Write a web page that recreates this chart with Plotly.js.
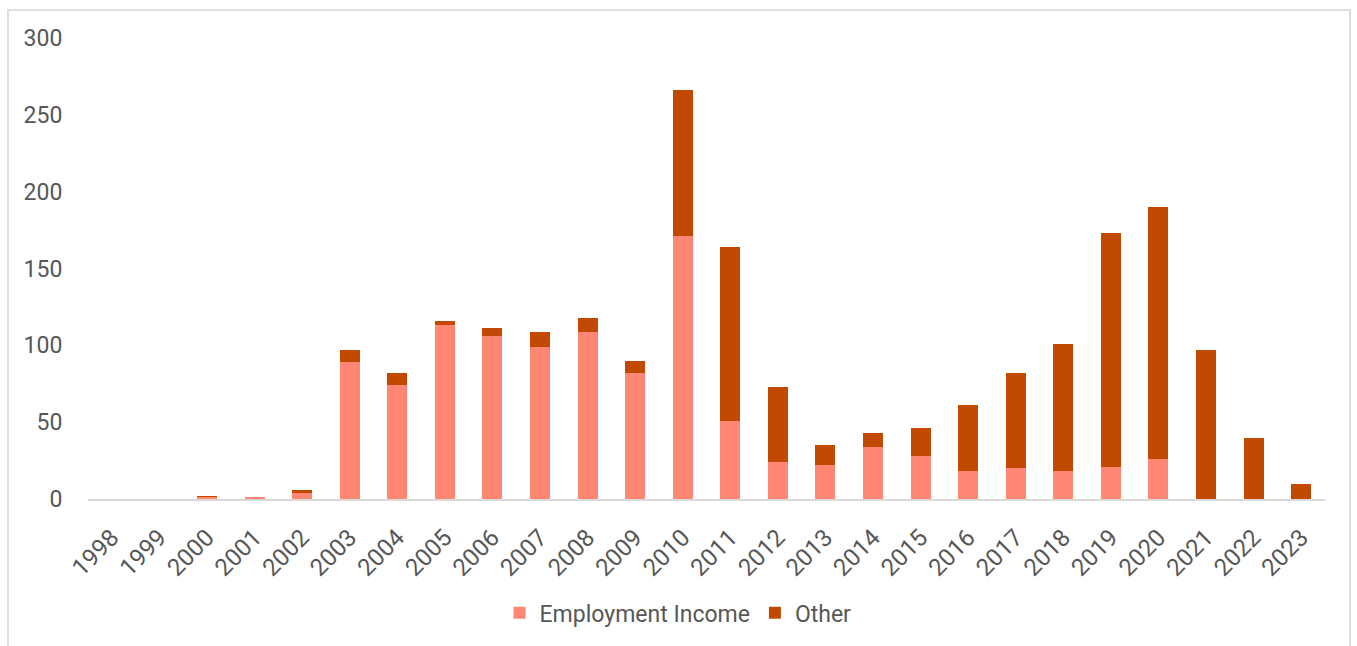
<!DOCTYPE html>
<html>
<head>
<meta charset="utf-8">
<script src="https://cdn.plot.ly/plotly-3.0.1.min.js"></script>
<style>
  html, body { margin: 0; padding: 0; background: #ffffff; }
  #wrap { position: relative; width: 1357px; height: 646px; overflow: hidden; }
  #frame { position: absolute; left: 7px; top: 9px; width: 1344px; height: 660px; border: 2px solid #dedede; box-sizing: border-box; }
  #chart { position: absolute; left: 0; top: 0; width: 1357px; height: 646px; }
</style>
</head>
<body>
<div id="wrap">
  <div id="frame"></div>
  <div id="chart"></div>
</div>
<script>
const years = ["1998","1999","2000","2001","2002","2003","2004","2005","2006","2007","2008","2009","2010","2011","2012","2013","2014","2015","2016","2017","2018","2019","2020","2021","2022","2023"];
const employmentIncome = [0,0,1,1.5,4,89,74,113,106,99,109,82,171,51,24,22,34,28,18,20,18,21,26,0,0,0];
const other = [0,0,1,0,2,8,8,3,5,10,9,8,95,113,49,13,9,18,43,62,83,152,164,97,40,10];
const yTicks = [0,50,100,150,200,250,300];

const textColor = '#575757';
const fontFamily = 'Roboto, "Open Sans", sans-serif';

const traces = [
  { type: 'bar', name: 'Employment Income', x: years, y: employmentIncome,
    marker: { color: '#FF8773' }, hoverinfo: 'x+y+name' },
  { type: 'bar', name: 'Other', x: years, y: other,
    marker: { color: '#C24A00' }, hoverinfo: 'x+y+name' }
];

const layout = {
  width: 1357, height: 646,
  margin: { l: 88, r: 32, t: 38, b: 145 },
  paper_bgcolor: 'rgba(0,0,0,0)',
  plot_bgcolor: 'rgba(0,0,0,0)',
  barmode: 'stack',
  bargap: 0.58,
  font: { family: fontFamily, color: textColor, size: 23 },
  showlegend: true,
  legend: { orientation: 'h', x: 0.477, xanchor: 'center', y: -0.2, yanchor: 'top',
            font: { size: 23, color: textColor }, traceorder: 'normal' },
  xaxis: {
    type: 'category', tickangle: -45, showgrid: false, zeroline: false,
    showline: true, linecolor: '#d9d9d9', linewidth: 2,
    ticks: 'outside', ticklen: 13, tickcolor: 'rgba(0,0,0,0)',
    tickfont: { size: 24, color: textColor }
  },
  yaxis: {
    range: [0, 300], tickvals: yTicks, ticktext: yTicks.map(String),
    showgrid: false, zeroline: false, showline: false,
    ticks: 'outside', ticklen: 20, tickcolor: 'rgba(0,0,0,0)',
    tickfont: { size: 23, color: textColor }
  }
};

Plotly.newPlot('chart', traces, layout, { displayModeBar: false, staticPlot: true });
</script>
</body>
</html>
